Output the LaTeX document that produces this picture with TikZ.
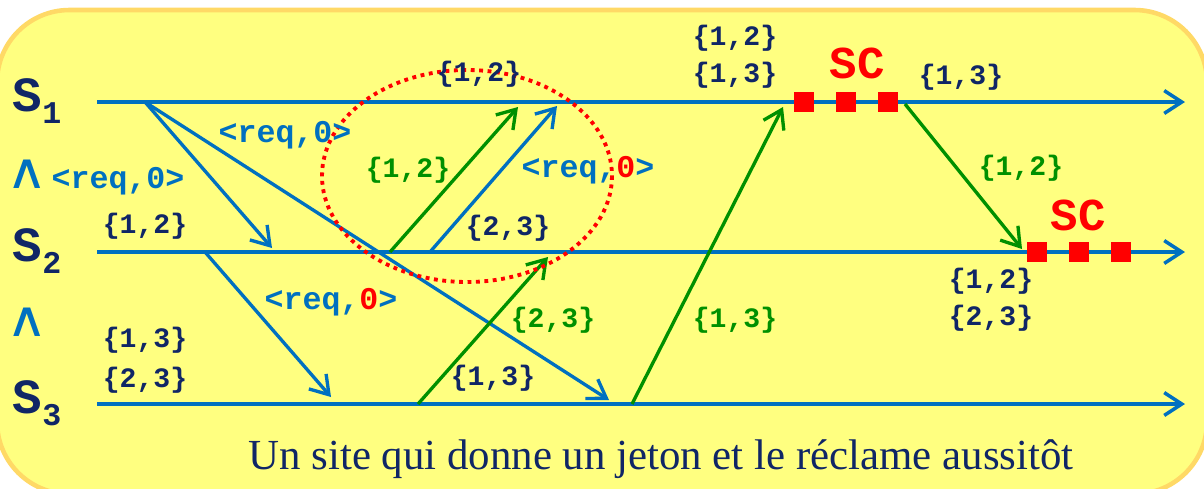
\documentclass[tikz,border=0pt]{standalone}
\usepackage{fontspec}
\setmainfont{Liberation Serif}
\setmonofont{Liberation Mono}
\newfontfamily\djv{DejaVu Sans}
\usetikzlibrary{arrows.meta}
\definecolor{bgfill}{RGB}{255,255,128}
\definecolor{bgedge}{RGB}{255,217,102}
\definecolor{navy}{RGB}{16,38,102}
\definecolor{lblue}{RGB}{0,112,192}
\definecolor{lgreen}{RGB}{0,144,0}
\definecolor{sred}{RGB}{255,0,0}
\tikzset{
  tip/.style={-{Straight Barb[length=10pt,width=13pt]}},
  timeline/.style={draw=lblue,line width=2pt,tip},
  bmsg/.style={draw=lblue,line width=1.9pt,tip},
  gmsg/.style={draw=lgreen,line width=1.9pt,tip},
  setlbl/.style={font=\ttfamily\bfseries\fontsize{16}{18}\selectfont,text=navy,inner sep=0pt},
  glbl/.style={font=\ttfamily\bfseries\fontsize{16}{18}\selectfont,text=lgreen,inner sep=0pt},
  reqlbl/.style={font=\ttfamily\bfseries\fontsize{18}{20}\selectfont,text=lblue,inner sep=0pt},
  sclbl/.style={font=\ttfamily\bfseries\fontsize{26}{28}\selectfont,text=sred,inner sep=0pt},
  sitelbl/.style={text=navy,inner sep=0pt},
  wedgelbl/.style={font=\djv\fontsize{28}{30}\selectfont,text=lblue,inner sep=0pt},
  csq/.style={fill=sred,draw=none,minimum size=11.9pt,inner sep=0pt},
}
\begin{document}
\begin{tikzpicture}[x=0.02cm,y=-0.02cm]
\useasboundingbox (0,0) rectangle (1204,488);
\clip (0,0) rectangle (1204,488);
\fill[white] (0,0) rectangle (1204,488);
\draw[draw=bgedge,fill=bgfill,line width=2.6pt,rounded corners=1.45cm] (-3,10) rectangle (1207,494);

% site labels
\node[sitelbl] (lS1) at (37,101) {\ttfamily\bfseries\fontsize{28}{30}\selectfont S\raisebox{-7pt}{\fontsize{18}{18}\selectfont 1}};
\node[sitelbl] (lS2) at (37,251) {\ttfamily\bfseries\fontsize{28}{30}\selectfont S\raisebox{-7pt}{\fontsize{18}{18}\selectfont 2}};
\node[sitelbl] (lS3) at (37,403) {\ttfamily\bfseries\fontsize{28}{30}\selectfont S\raisebox{-7pt}{\fontsize{18}{18}\selectfont 3}};
\node[wedgelbl] (w1) at (27,174) {\scalebox{1.15}[1]{∧}};
\node[wedgelbl] (w2) at (27,322) {\scalebox{1.15}[1]{∧}};

% time line coordinates
\coordinate (s1a) at (97,102);  \coordinate (s1b) at (1185,102);
\coordinate (s2a) at (97,252);  \coordinate (s2b) at (1185,252);
\coordinate (s3a) at (97,404);  \coordinate (s3b) at (1185,404);

\draw[timeline] (s1a) -- (s1b);
\draw[timeline] (s2a) -- (s2b);
\draw[timeline] (s3a) -- (s3b);

% message end points
\coordinate (p1) at (145,102);
\coordinate (q1) at (272,248);
\coordinate (q2) at (609,400);
\coordinate (p2) at (205,252);
\coordinate (q3) at (331,397);
\coordinate (p3) at (430,252);
\coordinate (q4) at (557,106);
\coordinate (p4) at (390,252);
\coordinate (q5) at (518,107);
\coordinate (p5) at (418,404);
\coordinate (q6) at (548,257);
\coordinate (p6) at (632,404);
\coordinate (q7) at (783,107);
\coordinate (p7) at (905,104);
\coordinate (q8) at (1022,249);

\draw[bmsg] (p1) -- (q1);
\draw[bmsg] (p1) -- (q2);
\draw[bmsg] (p2) -- (q3);
\draw[bmsg] (p3) -- (q4);
\draw[gmsg] (p4) -- (q5);
\draw[gmsg] (p5) -- (q6);
\draw[gmsg] (p6) -- (q7);
\draw[gmsg] (p7) -- (q8);

% critical sections
\node[csq] (c11) at (804,102) {};
\node[csq] (c12) at (846,102) {};
\node[csq] (c13) at (888,102) {};
\node[csq] (c21) at (1037,252) {};
\node[csq] (c22) at (1079,252) {};
\node[csq] (c23) at (1121,252) {};
\node[sclbl] (sc1) at (857,63) {SC};
\node[sclbl] (sc2) at (1078,215) {SC};

% dotted ellipse
\draw[sred,line width=2.2pt,dash pattern=on 2.2pt off 2.6pt] (467,176) ellipse [x radius=145, y radius=106];

% request labels
\node[reqlbl] (r1) at (285,135) {<req,0>};
\node[reqlbl] (r2) at (118,181) {<req,0>};
\node[reqlbl] (r3) at (588,170) {<req,{\color{sred}0}>};
\node[reqlbl] (r4) at (331,302) {<req,{\color{sred}0}>};

% set labels (navy)
\node[setlbl] (t1) at (479,74) {\{1,2\}};
\node[setlbl] (t2) at (735,38) {\{1,2\}};
\node[setlbl] (t3) at (735,75) {\{1,3\}};
\node[setlbl] (t4) at (961,77) {\{1,3\}};
\node[setlbl] (t5) at (145,226) {\{1,2\}};
\node[setlbl] (t6) at (508,228) {\{2,3\}};
\node[setlbl] (t7) at (991,281) {\{1,2\}};
\node[setlbl] (t8) at (991,318) {\{2,3\}};
\node[setlbl] (t9) at (145,340) {\{1,3\}};
\node[setlbl] (t10) at (145,380) {\{2,3\}};
\node[setlbl] (t11) at (493,378) {\{1,3\}};

% token labels (green)
\node[glbl] (g1) at (408,170) {\{1,2\}};
\node[glbl] (g2) at (553,320) {\{2,3\}};
\node[glbl] (g3) at (735,320) {\{1,3\}};
\node[glbl] (g4) at (1021,168) {\{1,2\}};

% caption
\node[text=navy,font=\fontsize{24.4}{26}\selectfont,inner sep=0pt] (cap) at (661,459) {Un site qui donne un jeton et le réclame aussitôt};
\end{tikzpicture}
\end{document}
